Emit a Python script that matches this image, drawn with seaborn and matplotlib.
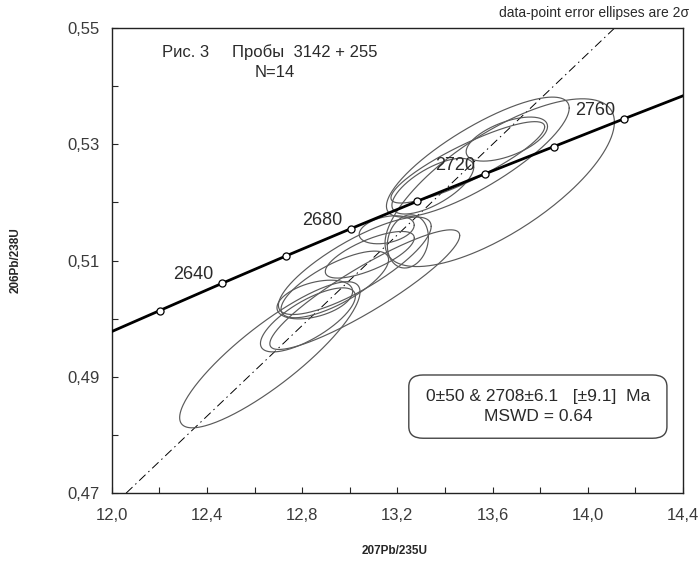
import numpy as np
import matplotlib
matplotlib.use("Agg")
import matplotlib.pyplot as plt
from matplotlib.patches import FancyBboxPatch
from matplotlib import font_manager
import seaborn as sns

# ---- data -------------------------------------------------------------
# isotope ratios of the 14 analyses (2-sigma errors, error correlation)
x207 = [12.664, 12.824, 12.853, 13.084, 13.021, 13.063, 12.937,
        13.155, 13.244, 13.349, 13.496, 13.660, 13.538, 13.630]
sx2 = [0.379, 0.1995, 0.159, 0.187, 0.321, 0.399, 0.226,
       0.1156, 0.0863, 0.172, 0.323, 0.171, 0.384, 0.482]
y206 = [0.4938, 0.4998, 0.5033, 0.5110, 0.5091, 0.5050, 0.5059,
        0.5153, 0.5133, 0.5228, 0.5269, 0.5309, 0.5278, 0.5234]
sy2 = [0.01257, 0.00551, 0.00333, 0.00401, 0.00838, 0.01029, 0.00573,
       0.00241, 0.00458, 0.00479, 0.00700, 0.00379, 0.01032, 0.01443]
rho = [0.860, 0.736, 0.421, 0.720, 0.810, 0.904, 0.742,
       0.325, 0.150, 0.684, 0.872, 0.574, 0.817, 0.722]

# concordia curve (age, Ma)
conc_age = [2604, 2620, 2640, 2660, 2680, 2700, 2720, 2740, 2760, 2780]
conc_x = [12.000, 12.201, 12.464, 12.732, 13.005, 13.283, 13.567, 13.857, 14.153, 14.454]
conc_y = [0.4978, 0.5014, 0.5061, 0.5108, 0.5155, 0.5202, 0.5249, 0.5296, 0.5344, 0.5392]
marker_ages = [2620, 2640, 2660, 2680, 2700, 2720, 2740, 2760]
label_ages = [2640, 2680, 2720, 2760]

# discordia: lower intercept 0 Ma, upper intercept 2708 Ma
disc_x = [0.0, 13.396]
disc_y = [0.0, 0.52206]

x_ticks = [12.0, 12.4, 12.8, 13.2, 13.6, 14.0, 14.4]
y_ticks = [0.47, 0.49, 0.51, 0.53, 0.55]

title_left = "Рис. 3"
title_right = "Пробы  3142 + 255"
n_text = "N=14"
result_line1 = "0±50 & 2708±6.1   [±9.1]  Ma"
result_line2 = "MSWD = 0.64"
note_text = "data-point error ellipses are 2σ"
xlabel = "207Pb/235U"
ylabel = "206Pb/238U"

# ---- style ------------------------------------------------------------
sns.set_style("ticks")
plt.rcParams["font.family"] = ["Liberation Sans", "DejaVu Sans"]
names = {f.name for f in font_manager.fontManager.ttflist}
narrow = "Liberation Sans Narrow" if "Liberation Sans Narrow" in names else "Liberation Sans"
lab_size = 10 if narrow == "Liberation Sans Narrow" else 8.5

fig = plt.figure(figsize=(6.99, 5.61), dpi=100)
ax = fig.add_axes([0.160, 0.121, 0.817, 0.829])

# discordia (dash-dot)
ax.axline((disc_x[0], disc_y[0]), (disc_x[1], disc_y[1]), color="black",
          lw=0.7, dashes=(9, 4, 1.5, 4), zorder=1)

# error ellipses
t = np.linspace(0, 2 * np.pi, 240)
for cx, sx, cy, sy, r in zip(x207, sx2, y206, sy2, rho):
    ex = cx + sx * np.cos(t)
    ey = cy + sy * (r * np.cos(t) + np.sqrt(1 - r * r) * np.sin(t))
    ax.plot(ex, ey, color="#5a5a5a", lw=0.85, zorder=2)

# concordia
sns.lineplot(x=conc_x, y=conc_y, sort=False, color="black", lw=2.0, ax=ax,
             zorder=3, legend=False)
mk = [conc_age.index(a) for a in marker_ages]
sns.scatterplot(x=[conc_x[i] for i in mk], y=[conc_y[i] for i in mk], ax=ax,
                marker="o", s=26, facecolor="white", edgecolor="black",
                linewidth=0.9, zorder=4, legend=False)
for a in label_ages:
    i = conc_age.index(a)
    ax.annotate(str(a), (conc_x[i], conc_y[i]), xytext=(-21, 6),
                textcoords="offset points", ha="center", va="center",
                fontsize=13, color="#2a2a2a", zorder=5)

ax.set_xlim(x_ticks[0], x_ticks[-1])
ax.set_ylim(y_ticks[0], y_ticks[-1])
ax.set_xticks(x_ticks)
ax.set_xticklabels([f"{v:.1f}".replace(".", ",") for v in x_ticks])
ax.set_yticks(y_ticks)
ax.set_yticklabels([f"{v:.2f}".replace(".", ",") for v in y_ticks])
ax.set_xticks(np.arange(12.2, 14.4, 0.4), minor=True)
ax.set_yticks(np.arange(0.48, 0.55, 0.02), minor=True)
ax.tick_params(which="both", direction="in", length=4, width=0.8,
               labelsize=12, labelcolor="#3a3a3a", top=False, right=False)
ax.tick_params(axis="x", pad=11)
ax.tick_params(axis="y", pad=9)
for s in ax.spines.values():
    s.set_visible(True)
    s.set_linewidth(1.0)
    s.set_color("#222222")

ax.set_xlabel(xlabel, fontsize=lab_size, fontweight="bold", family=narrow)
ax.set_ylabel(ylabel, fontsize=lab_size, fontweight="bold", family=narrow)
ax.xaxis.set_label_coords(0.495, -0.112)
ax.yaxis.set_label_coords(-0.158, 0.5)

# texts
ax.text(0.088, 0.948, title_left, transform=ax.transAxes, fontsize=12,
        ha="left", va="center", color="#2a2a2a")
ax.text(0.210, 0.948, title_right, transform=ax.transAxes, fontsize=12,
        ha="left", va="center", color="#2a2a2a")
ax.text(0.250, 0.905, n_text, transform=ax.transAxes, fontsize=12,
        ha="left", va="center", color="#2a2a2a")
fig.text(0.986, 0.977, note_text, fontsize=10, ha="right", va="center",
         color="#2a2a2a")

box = FancyBboxPatch((0.520, 0.118), 0.452, 0.136, transform=ax.transAxes,
                     boxstyle="round,pad=0,rounding_size=0.025",
                     facecolor="white", edgecolor="#444444", lw=1.0, zorder=6)
ax.add_patch(box)
ax.text(0.746, 0.208, result_line1, transform=ax.transAxes, fontsize=12.5,
        ha="center", va="center", color="#2a2a2a", zorder=7)
ax.text(0.746, 0.165, result_line2, transform=ax.transAxes, fontsize=12.5,
        ha="center", va="center", color="#2a2a2a", zorder=7)

fig.savefig("out.png", dpi=100)
